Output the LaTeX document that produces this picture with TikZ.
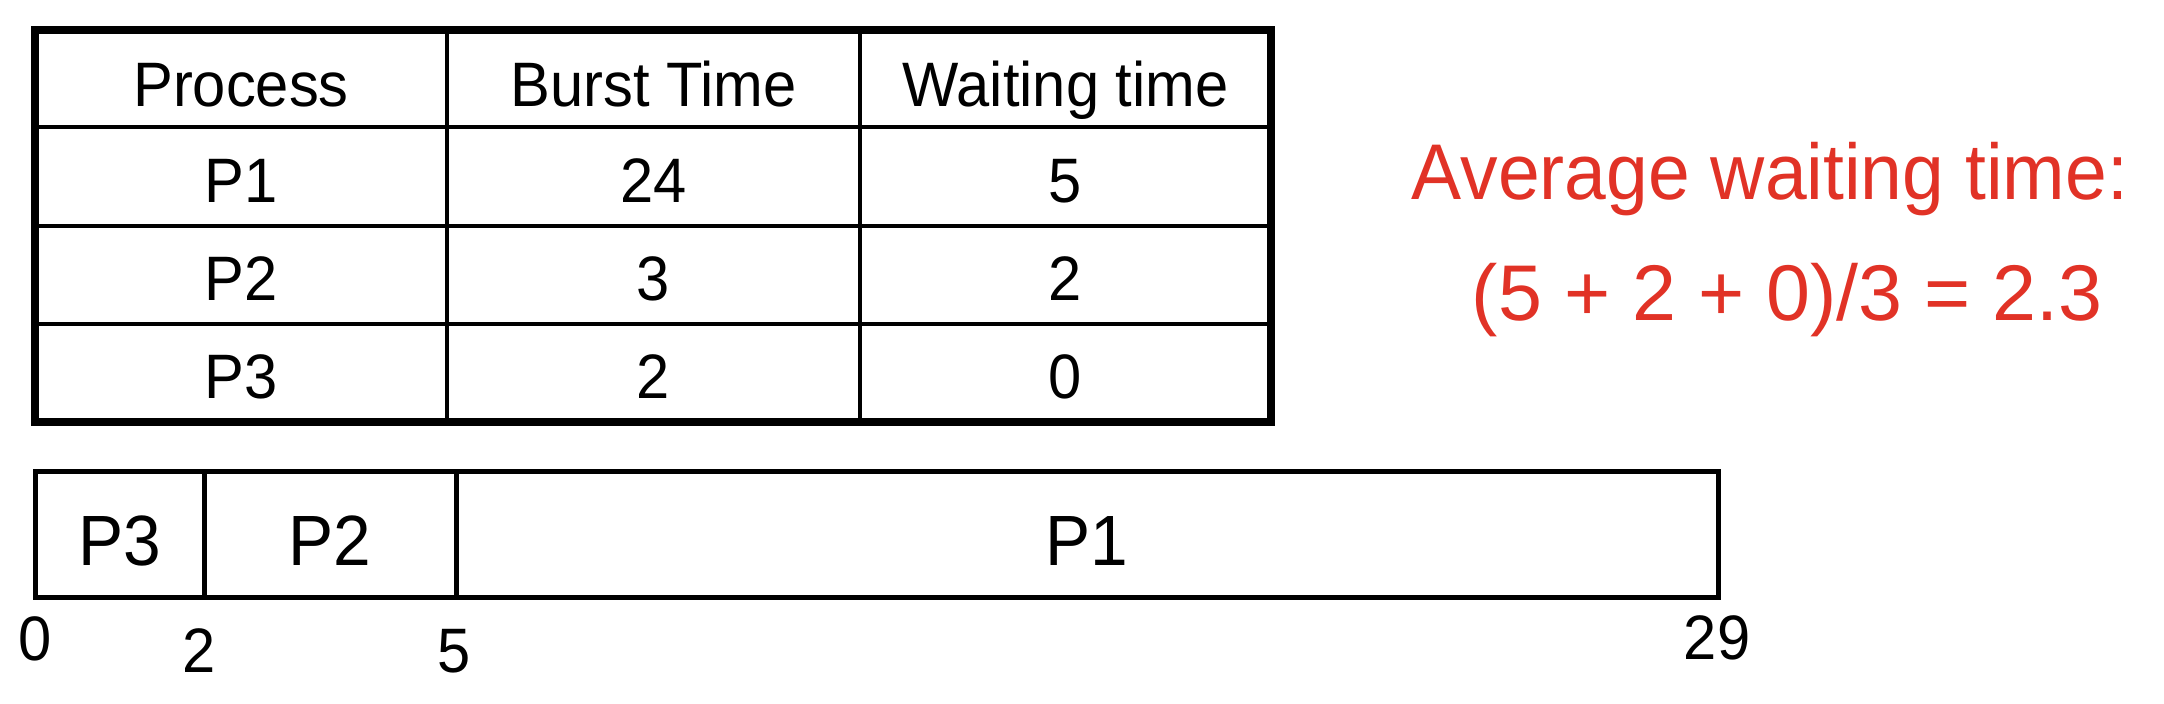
\documentclass[tikz,border=0pt]{standalone}
\usepackage{fontspec}
\setmainfont{Liberation Sans}
\newfontfamily\tabfont[FakeStretch=0.95]{Liberation Sans}
\definecolor{avgred}{RGB}{225,50,38}
\begin{document}
\begin{tikzpicture}[x=0.5pt,y=-0.5pt,
  thickframe/.style={line width=4pt},
  thinline/.style={line width=2pt},
  ganttline/.style={line width=2.5pt},
  celltext/.style={anchor=base,inner sep=0pt,font=\tabfont\fontsize{31.4}{36}\selectfont},
  gantttext/.style={anchor=base,inner sep=0pt,font=\tabfont\fontsize{35.6}{40}\selectfont},
  ticktext/.style={anchor=base,inner sep=0pt,font=\tabfont\fontsize{31.4}{36}\selectfont},
  avgtext/.style={anchor=base,inner sep=0pt,text=avgred},
  avgone/.style={avgtext,font=\tabfont\fontsize{39.5}{44}\selectfont},
  avgtwo/.style={avgtext,font=\fontsize{39.5}{44}\selectfont}]
\useasboundingbox (0,0) rectangle (2164,704);

% ---- table ----
\coordinate (tTL) at (35,30);
\coordinate (tBR) at (1271,422);
\foreach \yy in {127,226,324}
  \draw[thinline] (35,\yy) -- (1271,\yy);
\foreach \xx in {447,860}
  \draw[thinline] (\xx,30) -- (\xx,422);
\draw[thickframe] (tTL) rectangle (tBR);

\node[celltext] (hproc)  at (241,107)    {Process};
\node[celltext] (hburst) at (653.5,107)  {Burst Time};
\node[celltext] (hwait)  at (1065.5,107) {Waiting time};

\node[celltext] (p1) at (241,203)    {P1};
\node[celltext] (b1) at (653.5,203)  {24};
\node[celltext] (w1) at (1065.5,203) {5};

\node[celltext] (p2) at (241,301)    {P2};
\node[celltext] (b2) at (653.5,301)  {3};
\node[celltext] (w2) at (1065.5,301) {2};

\node[celltext] (p3) at (241,399)    {P3};
\node[celltext] (b3) at (653.5,399)  {2};
\node[celltext] (w3) at (1065.5,399) {0};

% ---- gantt chart ----
\coordinate (gTL) at (35,472);
\coordinate (gBR) at (1718,598);
\draw[ganttline] (204,472) -- (204,598);
\draw[ganttline] (456,472) -- (456,598);
\draw[ganttline] (gTL) rectangle (gBR);

\node[gantttext] (gP3) at (119.5,566) {P3};
\node[gantttext] (gP2) at (330,566)   {P2};
\node[gantttext] (gP1) at (1087,566)  {P1};

\node[ticktext] (t0)  at (35,661)   {0};
\node[ticktext] (t2)  at (199,673)  {2};
\node[ticktext] (t5)  at (454,673)  {5};
\node[ticktext] (t29) at (1717,660) {29};

% ---- average ----
\node[avgone] (avg1) at (1770,200) {Average waiting time:};
\node[avgtwo] (avg2) at (1787,321) {(5 + 2 + 0)/3 = 2.3};
\end{tikzpicture}
\end{document}
